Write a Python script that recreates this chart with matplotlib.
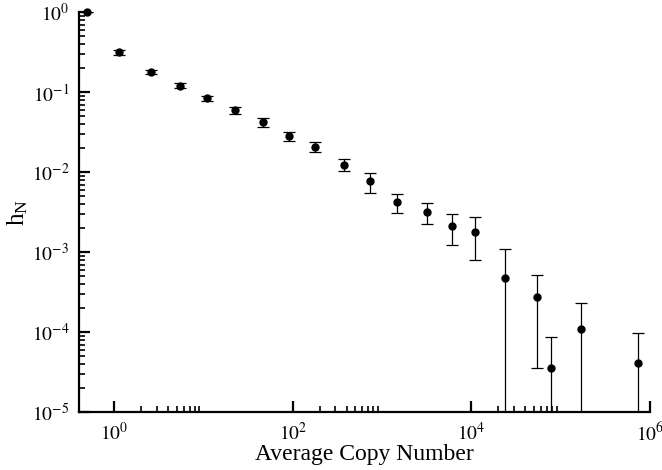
import numpy as np
import matplotlib.pyplot as plt
from matplotlib.ticker import FixedLocator, NullFormatter

plt.rcParams['font.family'] = ['Liberation Serif', 'DejaVu Serif']
plt.rcParams['mathtext.fontset'] = 'stix'

# dane
copy_number = [0.5, 1.14, 2.56, 5.44, 11.0, 22.3, 46.3, 91.0, 175, 373,
               724, 1466, 3170, 6090, 10860, 23900, 54000, 78300, 167000, 726000]
h_n = [1.0, 0.316, 0.181, 0.121, 0.0849, 0.060, 0.0425, 0.0284, 0.0209, 0.01245,
       0.0077, 0.00422, 0.00319, 0.00211, 0.00179, 4.8e-4, 2.76e-4, 3.6e-5, 1.11e-4, 4.1e-5]
h_upper = [1.0, 0.338, 0.192, 0.129, 0.0908, 0.066, 0.0473, 0.0322, 0.0241, 0.01454,
           0.00989, 0.00531, 0.0041, 0.00304, 0.00276, 1.1e-3, 5.16e-4, 8.73e-5, 2.3e-4, 9.8e-5]
h_lower = [1.0, 0.292, 0.169, 0.112, 0.0785, 0.0535, 0.0372, 0.0248, 0.0178, 0.01038,
           0.00546, 0.00313, 0.00228, 0.00122, 8.08e-4, 1e-8, 3.61e-5, 1e-8, 1e-8, 1e-8]

x = np.array(copy_number)
y = np.array(h_n)
yerr = np.vstack([y - np.array(h_lower), np.array(h_upper) - y])

fig = plt.figure(figsize=(6.62, 4.70), dpi=100)
ax = fig.add_axes([0.1193, 0.1228, 0.8626, 0.851])

ax.set_xscale('log')
ax.set_yscale('log')

ax.errorbar(x, y, yerr=yerr, fmt='none', ecolor='black', elinewidth=0.9,
            capsize=4.5, capthick=0.9)
ax.plot(x, y, 'o', color='black', markersize=5, clip_on=False, zorder=5)

ax.set_xlim(0.403, 1e6)
ax.set_ylim(1e-5, 1e0)

# osie w stylu Tecplot
ax.spines['top'].set_visible(False)
ax.spines['right'].set_visible(False)
ax.spines['left'].set_linewidth(1.6)
ax.spines['bottom'].set_linewidth(1.6)

x_major = [1e0, 1e2, 1e4, 1e6]
x_minor = [m * d for d in [1e0, 1e2, 1e4] for m in range(2, 10)]
ax.xaxis.set_major_locator(FixedLocator(x_major))
ax.xaxis.set_minor_locator(FixedLocator(x_minor))
ax.xaxis.set_minor_formatter(NullFormatter())
ax.set_xticklabels([r'$10^{0}$', r'$10^{2}$', r'$10^{4}$', r'$10^{6}$'])

y_major = [10.0 ** e for e in range(-5, 1)]
y_minor = [m * 10.0 ** e for e in range(-5, 0) for m in range(2, 10)]
ax.yaxis.set_major_locator(FixedLocator(y_major))
ax.yaxis.set_minor_locator(FixedLocator(y_minor))
ax.yaxis.set_minor_formatter(NullFormatter())
ax.set_yticklabels([r'$10^{-5}$', r'$10^{-4}$', r'$10^{-3}$', r'$10^{-2}$',
                    r'$10^{-1}$', r'$10^{0}$'])

ax.tick_params(which='major', direction='in', length=8, width=1.6, labelsize=14, pad=7)
ax.tick_params(which='minor', direction='in', length=4.5, width=1.2)

ax.set_xlabel('Average Copy Number', fontsize=17, labelpad=0)
ax.set_ylabel(r'h$_\mathregular{N}$', fontsize=18)
ax.yaxis.set_label_coords(-0.085, 0.5)

fig.savefig('out.png', dpi=100)
